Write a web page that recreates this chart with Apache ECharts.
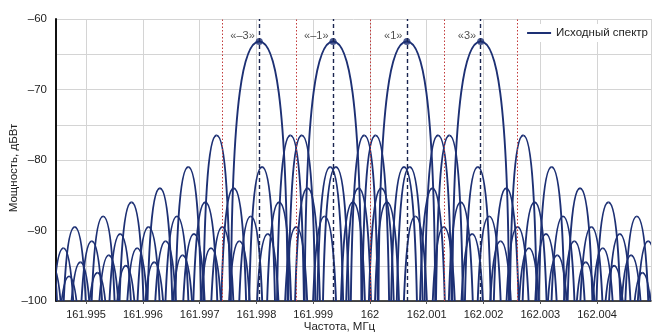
<!DOCTYPE html>
<html>
<head>
<meta charset="utf-8">
<style>
  html, body { margin: 0; padding: 0; background: #fff; }
  #chart { width: 655px; height: 336px; }
</style>
<script src="https://cdn.jsdelivr.net/npm/echarts@6/dist/echarts.min.js"></script>
</head>
<body>
<div id="chart"></div>
<script>
// Главные пики (МГц) и их уровень (дБВт)
const peakFreqs = [161.99805, 161.99935, 162.00065, 162.00195];
const peakLabels = ['«–3»', '«–1»', '«1»', '«3»'];
const peakLevel = -63.2;
// красные пунктиры между пиками
const splitFreqs = [161.9974, 161.9987, 162, 162.0013, 162.0026];

// нули спектра (МГц) и уровни лепестков между ними (дБВт), по составляющим
const nullsM3 = [161.99405, 161.99455, 161.99505, 161.99555, 161.99605, 161.99655, 161.99705, 161.99755,
  161.99855, 161.99905, 161.99955, 162.00005, 162.00055, 162.00105, 162.00155, 162.00205, 162.00255,
  162.00305, 162.00355, 162.00405, 162.00455, 162.00505];
const levelsM3 = [-90.5, -89.5, -88, -86, -84, -81, -76.5, -63.2, -76.5, -81, -84, -86, -88, -89.5,
  -90.5, -91.5, -92.5, -93.5, -94.5, -95, -96];

const nullsM1 = [161.99435, 161.99485, 161.99535, 161.99585, 161.99635, 161.99685, 161.99735, 161.99785,
  161.99835, 161.99885, 161.99985, 162.00035, 162.00085, 162.00135, 162.00185, 162.00235, 162.00285,
  162.00335, 162.00385, 162.00435, 162.00485, 162.00535];
const levelsM1 = [-92.5, -91.5, -90.5, -89.5, -88, -86, -84, -81, -76.5, -63.2, -76.5, -81, -84, -86,
  -88, -89.5, -90.5, -91.5, -92.5, -93.5, -94.5];

const nullsP1 = [161.99415, 161.99465, 161.99515, 161.99565, 161.99615, 161.99665, 161.99715, 161.99765,
  161.99815, 161.99865, 161.99915, 161.99965, 162.00015, 162.00115, 162.00165, 162.00215, 162.00265,
  162.00315, 162.00365, 162.00415, 162.00465, 162.00515];
const levelsP1 = [-95, -94.5, -93.5, -92.5, -91.5, -90.5, -89.5, -88, -86, -84, -81, -76.5, -63.2,
  -76.5, -81, -84, -86, -88, -89.5, -90.5, -91.5];

const nullsP3 = [161.99395, 161.99445, 161.99495, 161.99545, 161.99595, 161.99645, 161.99695, 161.99745,
  161.99795, 161.99845, 161.99895, 161.99945, 161.99995, 162.00045, 162.00095, 162.00145, 162.00245,
  162.00295, 162.00345, 162.00395, 162.00445, 162.00495];
const levelsP3 = [-97, -96.5, -96, -95, -94.5, -93.5, -92.5, -91.5, -90.5, -89.5, -88, -86, -84, -81,
  -76.5, -63.2, -76.5, -81, -84, -86, -88];

const LINE = '#1d3074';
const FONT = 'Liberation Sans, Arial, sans-serif';

// строка на каждый лепесток: [левый ноль, правый ноль, уровень]
const lobes = (nulls, levels) => levels.map((lv, i) => [nulls[i], nulls[i + 1], lv]);
const lobeRows = [].concat(
  lobes(nullsM3, levelsM3), lobes(nullsM1, levelsM1),
  lobes(nullsP1, levelsP1), lobes(nullsP3, levelsP3)
);

// арка лепестка: крутые бока у нулей, пологая вершина
function renderLobe(params, api) {
  const l = api.value(0), r = api.value(1), lv = api.value(2);
  const top = api.coord([(l + r) / 2, lv]);
  const footL = api.coord([l, lv - 40]);
  const footR = api.coord([r, lv - 40]);
  const kneeY = api.coord([l, lv - 6])[1];
  const cL = api.coord([(3 * l + r) / 4, lv])[0];
  const cR = api.coord([(l + 3 * r) / 4, lv])[0];
  const style = { stroke: LINE, lineWidth: 1.9, fill: null };
  return {
    type: 'group',
    children: [
      { type: 'bezierCurve', style,
        shape: { x1: footL[0], y1: footL[1], cpx1: footL[0], cpy1: kneeY, cpx2: cL, cpy2: top[1], x2: top[0], y2: top[1] } },
      { type: 'bezierCurve', style,
        shape: { x1: top[0], y1: top[1], cpx1: cR, cpy1: top[1], cpx2: footR[0], cpy2: kneeY, x2: footR[0], y2: footR[1] } }
    ]
  };
}

const chart = echarts.init(document.getElementById('chart'));

const guideLines = [
  ...splitFreqs.map(f => ({ xAxis: f, lineStyle: { color: '#c23b3b', width: 1, type: [1.5, 2] } })),
  ...peakFreqs.map(f => ({ xAxis: f, lineStyle: { color: '#1a2550', width: 1.4, type: [4, 3] } }))
];

const option = {
  animation: false,
  backgroundColor: '#fff',
  textStyle: { fontFamily: FONT },
  grid: { left: 56, right: 4, top: 19, bottom: 35, containLabel: false, outerBoundsMode: 'none' },
  legend: {
    right: 4,
    top: 24,
    data: [{ name: 'Исходный спектр', icon: 'rect' }],
    itemWidth: 24,
    itemHeight: 2,
    itemGap: 4,
    padding: [3, 3],
    backgroundColor: '#fff',
    textStyle: { fontSize: 11.5, color: '#222', fontFamily: FONT }
  },
  xAxis: {
    type: 'value',
    min: 161.99447,
    max: 162.00495,
    splitNumber: 10,
    name: 'Частота, МГц',
    nameLocation: 'middle',
    nameGap: 20,
    nameMoveOverlap: false,
    nameTextStyle: { fontSize: 11.5, color: '#222', padding: [0, 28, 0, 0] },
    axisLine: { show: true, onZero: false, lineStyle: { color: '#111', width: 1.5 } },
    axisTick: { show: true, length: 3, lineStyle: { color: '#555' } },
    axisLabel: { fontSize: 11, color: '#222', margin: 8, showMinLabel: false, showMaxLabel: false },
    splitLine: { show: true, lineStyle: { color: '#d4d4d4', width: 1 } }
  },
  yAxis: {
    type: 'value',
    min: -100,
    max: -60,
    interval: 10,
    name: 'Мощность, дБВт',
    nameLocation: 'middle',
    nameGap: 36,
    nameMoveOverlap: false,
    nameTextStyle: { fontSize: 11.5, color: '#222', padding: [0, 16, 0, 0] },
    axisLine: { show: true, onZero: false, lineStyle: { color: '#111', width: 2 } },
    axisTick: { show: false },
    axisLabel: { fontSize: 11.5, color: '#222', margin: 9, formatter: v => String(v).replace('-', '–') },
    splitLine: { show: true, lineStyle: { color: '#d4d4d4', width: 1 } },
    minorTick: { show: false, splitNumber: 2 },
    minorSplitLine: { show: true, lineStyle: { color: '#d4d4d4', width: 1 } }
  },
  series: [
    {
      name: 'Исходный спектр',
      type: 'custom',
      clip: true,
      z: 2,
      itemStyle: { color: LINE },
      dimensions: ['left', 'right', 'level'],
      encode: { x: [0, 1], y: 2 },
      renderItem: renderLobe,
      data: lobeRows
    },
    {
      name: 'peaks',
      type: 'scatter',
      z: 3,
      symbol: 'circle',
      symbolSize: 7,
      itemStyle: { color: LINE },
      data: peakFreqs.map((f, i) => ({ value: [f, peakLevel], label: { formatter: peakLabels[i] } })),
      label: {
        show: true,
        position: 'left',
        distance: 1,
        offset: [0, -6],
        fontSize: 11,
        color: '#222',
        fontFamily: FONT
      },
      markLine: {
        silent: true,
        symbol: 'none',
        precision: 6,
        animation: false,
        label: { show: false },
        data: guideLines
      }
    }
  ]
};

chart.setOption(option);
</script>
</body>
</html>
